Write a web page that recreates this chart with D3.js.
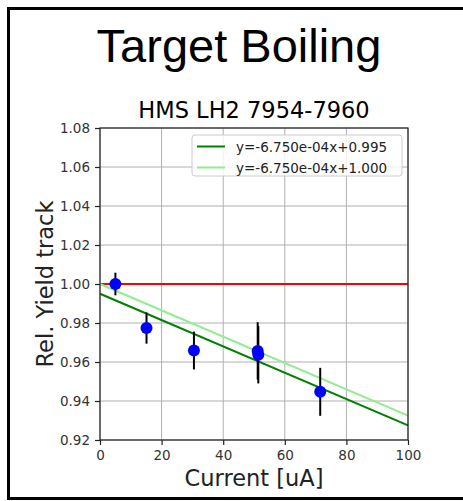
<!DOCTYPE html>
<html>
<head>
<meta charset="utf-8">
<script src="https://cdn.jsdelivr.net/npm/d3@7"></script>
<style>
  body { margin: 0; background: #fff; }
  text { font-family: "DejaVu Sans", sans-serif; }
</style>
</head>
<body>
<div id="chart"></div>
<script>
const current = [5.0, 15.1, 30.5, 51.2, 51.4, 71.5];
const relYield = [1.0, 0.9774, 0.9659, 0.9657, 0.9637, 0.9447];
const yieldErr = [0.0058, 0.0080, 0.0097, 0.0147, 0.0147, 0.0123];

const fitSlopes = [-6.750e-4, -6.750e-4];
const fitIntercepts = [0.995, 1.000];
const fitLabels = ['y=-6.750e-04x+0.995', 'y=-6.750e-04x+1.000'];
const fitColors = ['green', 'lightgreen'];

const xTicks = [0, 20, 40, 60, 80, 100];
const yTicks = [0.92, 0.94, 0.96, 0.98, 1.00, 1.02, 1.04, 1.06, 1.08];

const width = 463;
const height = 501;
const margin = { left: 100, right: 55, top: 128, bottom: 61 };

const svg = d3.select('#chart')
  .append('svg')
  .attr('width', width)
  .attr('height', height)

// outer frame
svg.append('rect')
  .attr('x', 8.5).attr('y', 8.5)
  .attr('width', 470).attr('height', 490)
  .attr('fill', 'none')
  .attr('stroke', '#000')
  .attr('stroke-width', 3)

svg.append('text')
  .attr('x', 239).attr('y', 62)
  .attr('text-anchor', 'middle')
  .style('font-family', '"Liberation Sans", Arial, sans-serif')
  .style('font-size', '47px')
  .text('Target Boiling')

const xScale = d3.scaleLinear()
  .domain([0, 100])
  .range([margin.left, width - margin.right])

const yScale = d3.scaleLinear()
  .domain([0.92, 1.08])
  .range([height - margin.bottom, margin.top])

const plotW = xScale.range()[1] - xScale.range()[0];
const plotH = yScale.range()[0] - yScale.range()[1];

// grid
svg.append('g')
  .selectAll('line')
  .data(xTicks)
  .enter()
  .append('line')
  .attr('x1', d => xScale(d)).attr('x2', d => xScale(d))
  .attr('y1', yScale(0.92)).attr('y2', yScale(1.08))
  .attr('stroke', '#b0b0b0').attr('stroke-width', 1)

svg.append('g')
  .selectAll('line')
  .data(yTicks)
  .enter()
  .append('line')
  .attr('x1', xScale(0)).attr('x2', xScale(100))
  .attr('y1', d => yScale(d)).attr('y2', d => yScale(d))
  .attr('stroke', '#b0b0b0').attr('stroke-width', 1)

// reference line at 1
svg.append('line')
  .attr('x1', xScale(0)).attr('x2', xScale(100))
  .attr('y1', yScale(1)).attr('y2', yScale(1))
  .attr('stroke', 'red').attr('stroke-width', 2)

// fit lines
const line = d3.line()
  .x(d => xScale(d[0]))
  .y(d => yScale(d[1]))

fitSlopes.forEach((m, i) => {
  svg.append('path')
    .datum([[0, fitIntercepts[i]], [100, m * 100 + fitIntercepts[i]]])
    .attr('d', line)
    .attr('fill', 'none')
    .attr('stroke', fitColors[i])
    .attr('stroke-width', 2)
})

// error bars
svg.append('g')
  .selectAll('line')
  .data(current)
  .enter()
  .append('line')
  .attr('x1', d => xScale(d)).attr('x2', d => xScale(d))
  .attr('y1', (d, i) => yScale(relYield[i] - yieldErr[i]))
  .attr('y2', (d, i) => yScale(relYield[i] + yieldErr[i]))
  .attr('stroke', '#000').attr('stroke-width', 2)

svg.append('g')
  .selectAll('circle')
  .data(current)
  .enter()
  .append('circle')
  .attr('cx', d => xScale(d))
  .attr('cy', (d, i) => yScale(relYield[i]))
  .attr('r', 6)
  .attr('fill', 'blue')

// axes
const xAxis = d3.axisBottom(xScale)
  .tickValues(xTicks)
  .tickSize(5)
  .tickPadding(5)
  .tickFormat(d3.format('d'))

const yAxis = d3.axisLeft(yScale)
  .tickValues(yTicks)
  .tickSize(5)
  .tickPadding(5)
  .tickFormat(d3.format('.2f'))

const gx = svg.append('g')
  .attr('transform', `translate(0, ${yScale(0.92)})`)
  .call(xAxis)

const gy = svg.append('g')
  .attr('transform', `translate(${xScale(0)}, 0)`)
  .call(yAxis)

svg.append('rect')
  .attr('x', xScale(0)).attr('y', yScale(1.08))
  .attr('width', plotW).attr('height', plotH)
  .attr('fill', 'none').attr('stroke', '#222').attr('stroke-width', 1.2)

svg.selectAll('.domain').remove()
svg.selectAll('.tick line').attr('stroke', '#222').attr('stroke-width', 1.2)
svg.selectAll('.tick text')
  .style('font-family', '"DejaVu Sans", sans-serif')
  .style('font-size', '13.5px')
  .attr('fill', '#333')

// legend
const legend = svg.append('g')
legend.append('rect')
  .attr('x', 192).attr('y', 135)
  .attr('width', 210).attr('height', 41)
  .attr('rx', 3)
  .attr('fill', '#fff').attr('fill-opacity', 0.8)
  .attr('stroke', '#ccc')

fitLabels.forEach((lab, i) => {
  const y = 146.5 + i * 21
  legend.append('line')
    .attr('x1', 197).attr('x2', 225)
    .attr('y1', y).attr('y2', y)
    .attr('stroke', fitColors[i]).attr('stroke-width', 2)
  legend.append('text')
    .attr('x', 236).attr('y', y + 5)
    .style('font-size', '13.5px')
    .attr('fill', '#222')
    .text(lab)
})

// titles
svg.append('text')
  .attr('x', (xScale(0) + xScale(100)) / 2).attr('y', 118)
  .attr('text-anchor', 'middle')
  .style('font-size', '22.5px')
  .text('HMS LH2 7954-7960')

svg.append('text')
  .attr('x', (xScale(0) + xScale(100)) / 2).attr('y', 486)
  .attr('text-anchor', 'middle')
  .style('font-size', '22.5px')
  .attr('fill', '#222')
  .text('Current [uA]')

svg.append('text')
  .attr('transform', `translate(53, ${(yScale(0.92) + yScale(1.08)) / 2}) rotate(-90)`)
  .attr('text-anchor', 'middle')
  .style('font-size', '22.5px')
  .attr('fill', '#222')
  .text('Rel. Yield track')
</script>
</body>
</html>
